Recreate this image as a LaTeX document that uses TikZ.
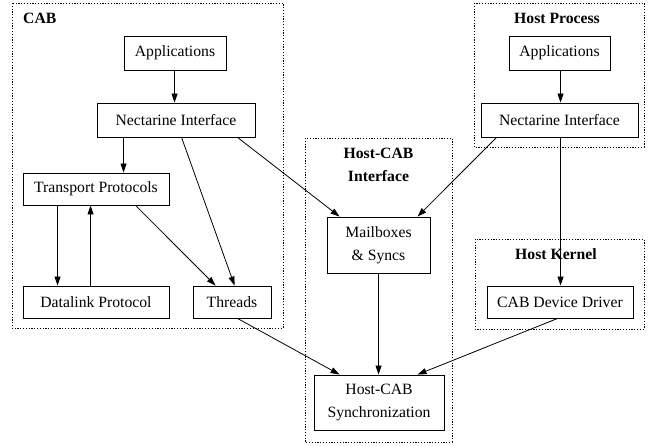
\documentclass[tikz,border=0pt]{standalone}
\usepackage{fontspec}
\setmainfont{Liberation Serif}
\usetikzlibrary{arrows.meta}
\begin{document}
\begin{tikzpicture}[x=1pt,y=-1pt,
  font=\fontsize{15.7}{23}\selectfont,
  box/.style={draw,line width=0.9pt,inner sep=0pt,align=center},
  cluster/.style={draw,line width=0.9pt,dash pattern=on 1.2pt off 1.6pt},
  title/.style={font=\fontsize{15.7}{23}\selectfont\bfseries,inner sep=0pt,align=center},
  arr/.style={line width=0.8pt,-{Triangle[length=9pt,width=6pt]}}]
\useasboundingbox (0,0) rectangle (649,446);

% subsystem frames
\draw[cluster] (12,3) rectangle (283,328);
\draw[cluster] (305,138) rectangle (452,442);
\draw[cluster] (474,3) rectangle (644,147);
\draw[cluster] (475,239) rectangle (644,329);

\node[title,anchor=west] (tcab) at (23,18) {CAB};
\node[title] (thci) at (378.5,165) {Host-CAB\\Interface};
\node[title] (thp) at (557,18) {Host Process};
\node[title] (thk) at (556,254) {Host Kernel};

% CAB side
\node[box,minimum width=102pt,minimum height=34pt] (capp) at (175,53) {Applications};
\node[box,minimum width=158pt,minimum height=34pt] (cni) at (176,120) {Nectarine Interface};
\node[box,minimum width=146pt,minimum height=32pt] (tp) at (96,189) {Transport Protocols};
\node[box,minimum width=146pt,minimum height=32pt] (dl) at (96,302) {Datalink Protocol};
\node[box,minimum width=78pt,minimum height=32pt] (thr) at (232,302) {Threads};

% shared interface
\node[box,minimum width=103pt,minimum height=56pt] (mb) at (378.5,245) {Mailboxes\\\& Syncs};
\node[box,minimum width=130pt,minimum height=55pt] (sync) at (379,402.5) {Host-CAB\\Synchronization};

% host side
\node[box,minimum width=101pt,minimum height=34pt] (happ) at (559.5,53) {Applications};
\node[box,minimum width=157pt,minimum height=34pt] (hni) at (559.5,120) {Nectarine Interface};
\node[box,minimum width=146pt,minimum height=32pt] (drv) at (560,302) {CAB Device Driver};

% connectors
\draw[arr] ([xshift=51pt]capp.south west) -- ([xshift=78pt]cni.north west);
\draw[arr] ([xshift=27pt]cni.south west) -- ([xshift=101pt]tp.north west);
\draw[arr] ([xshift=85pt]cni.south west) -- ([xshift=42pt]thr.north west);
\draw[arr] ([xshift=141pt]cni.south west) -- ([xshift=13pt]mb.north west);
\draw[arr] ([xshift=35pt]tp.south west) -- ([xshift=35pt]dl.north west);
\draw[arr] ([xshift=68pt]dl.north west) -- ([xshift=68pt]tp.south west);
\draw[arr] ([xshift=113pt]tp.south west) -- ([xshift=23pt]thr.north west);
\draw[arr] ([xshift=45pt]thr.south west) -- ([xshift=26pt]sync.north west);
\draw[arr] ([xshift=52pt]mb.south west) -- ([xshift=65pt]sync.north west);
\draw[arr] ([xshift=52pt]happ.south west) -- ([xshift=80pt]hni.north west);
\draw[arr] ([xshift=16pt]hni.south west) -- ([xshift=91pt]mb.north west);
\draw[arr] ([xshift=80pt]hni.south west) -- ([xshift=74pt]drv.north west);
\draw[arr] ([xshift=71pt]drv.south west) -- ([xshift=104pt]sync.north west);
\end{tikzpicture}
\end{document}
